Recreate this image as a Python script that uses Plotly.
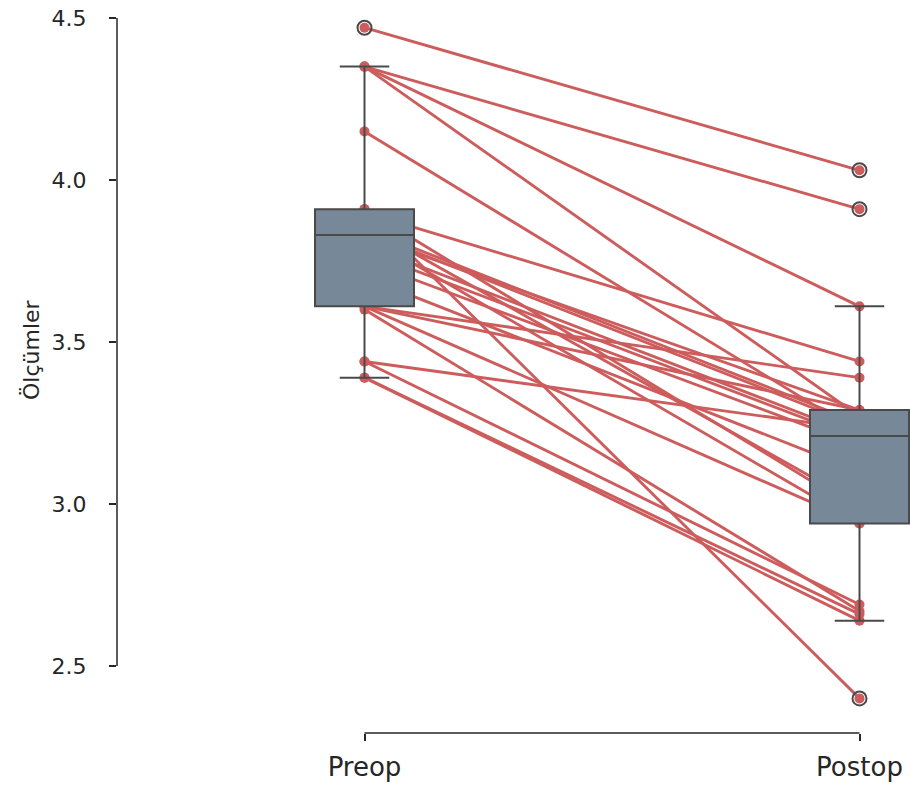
import plotly.graph_objects as go

categories = ["Preop", "Postop"]
preop = [4.47, 4.35, 4.35, 4.35, 4.15, 3.91, 3.91, 3.90, 3.86, 3.85, 3.84, 3.83, 3.83,
         3.80, 3.78, 3.75, 3.70, 3.61, 3.61, 3.61, 3.60, 3.44, 3.44, 3.39, 3.39]
postop = [4.03, 3.91, 3.61, 3.27, 3.22, 2.40, 2.98, 3.44, 3.00, 3.25, 3.24, 3.29, 2.94,
          3.21, 3.20, 3.18, 3.10, 3.39, 2.94, 3.29, 2.67, 3.23, 2.69, 2.64, 2.66]
y_ticks = [2.5, 3.0, 3.5, 4.0, 4.5]
y_title = "Ölçümler"

RED = "#cd5c5c"
BOX_FILL = "#778899"
EDGE = "#4a4a4a"
TXT = "#262626"
FONT = "DejaVu Sans"

fig = go.Figure()

# paired lines
lx, ly = [], []
for a, b in zip(preop, postop):
    lx += [0, 1, None]
    ly += [a, b, None]
fig.add_trace(go.Scatter(x=lx, y=ly, mode="lines",
                         line=dict(color=RED, width=2.9), hoverinfo="skip",
                         showlegend=False, zorder=0))
# points
fig.add_trace(go.Scatter(x=[0] * len(preop) + [1] * len(postop), y=preop + postop,
                         mode="markers", marker=dict(color=RED, size=10),
                         hoverinfo="skip", showlegend=False, zorder=1))
# boxes
fig.add_trace(go.Box(x=[0] * len(preop) + [1] * len(postop), y=preop + postop,
                     width=0.2, whiskerwidth=0.5, quartilemethod="linear",
                     fillcolor=BOX_FILL, line=dict(color=EDGE, width=2),
                     boxpoints="outliers", jitter=0, pointpos=0,
                     marker=dict(color="rgba(0,0,0,0)", size=14,
                                 line=dict(color=EDGE, width=2)),
                     showlegend=False, zorder=2))

W, H = 910, 785
L, R, T, B = 117, 0, 0, 52
# pixel mapping: 4.5 -> y=18, 2.5 -> y=666
ppu = (666 - 18) / 2.0
y_top = 4.5 + 18 / ppu
y_bot = 4.5 - (H - B - 18) / ppu
x_right = -0.5 + (W - L) / 495.0

fig.update_layout(
    width=W, height=H, margin=dict(l=L, r=R, t=T, b=B),
    plot_bgcolor="white", paper_bgcolor="white",
    font=dict(family=FONT, color=TXT, size=21),
    xaxis=dict(range=[-0.5, x_right], tickvals=[0, 1], ticktext=categories,
               showgrid=False, zeroline=False, showline=False,
               ticks="outside", ticklen=7, tickwidth=1.5, tickcolor=TXT,
               ticklabelstandoff=4,
               tickfont=dict(size=26, family=FONT, color=TXT)),
    yaxis=dict(range=[y_bot, y_top], tickvals=y_ticks,
               ticktext=[f"{v:.1f}" for v in y_ticks],
               showgrid=False, zeroline=False, showline=False,
               ticks="outside", ticklen=7, tickwidth=1.5, tickcolor=TXT,
               ticklabelstandoff=18,
               tickfont=dict(size=22, family=FONT, color=TXT)),
    shapes=[
        dict(type="line", xref="paper", yref="y", x0=0, x1=0, y0=2.5, y1=4.5,
             line=dict(color=TXT, width=1.5)),
        dict(type="line", xref="x", yref="paper", x0=0, x1=1, y0=0, y1=0,
             line=dict(color=TXT, width=1.5)),
    ],
    annotations=[
        dict(text=y_title, textangle=-90, xref="paper", yref="y",
             x=(31 - L) / (W - L), y=4.5 - (350 - 18) / ppu,
             xanchor="center", yanchor="middle", showarrow=False,
             font=dict(size=22, family=FONT, color=TXT)),
    ],
)

fig.write_html("out.html")
